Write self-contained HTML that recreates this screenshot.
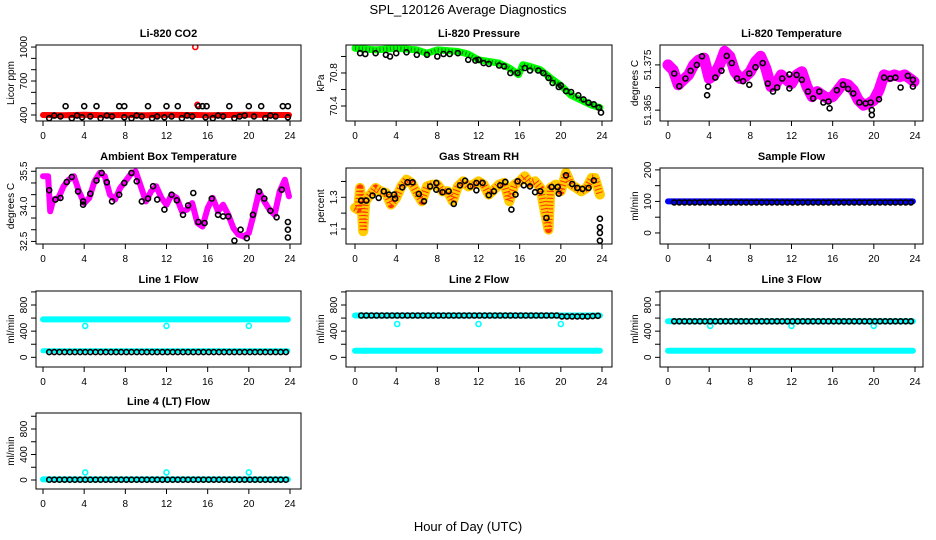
<!DOCTYPE html>
<html><head><meta charset="utf-8">
<style>
html,body{margin:0;padding:0;background:#fff;}
svg{display:block;font-family:"Liberation Sans",Arial,sans-serif;}
</style></head>
<body>
<svg id="chart" width="936" height="540" viewBox="0 0 936 540" xmlns="http://www.w3.org/2000/svg">
<rect width="936" height="540" fill="#fff"/>
<text x="468" y="14" text-anchor="middle" font-size="13">SPL_120126  Average Diagnostics</text>
<text x="468" y="531" text-anchor="middle" font-size="13">Hour of Day (UTC)</text>
</svg>
<script>
// ---------- data ----------
const xTicks = [0,4,8,12,16,20,24];
const halfHours = Array.from({length:47},(_,i)=>0.6+i*0.5);

// CO2
const co2BandHours = [0,2,4,6,8,10,12,14,14.8,15,16,18,20,22,23.9];
const co2BandVals  = [400,398,402,398,400,398,403,400,400,400,398,400,403,400,400];
const co2OutHours = [14.8,15.0];
const co2OutVals  = [1000,490];
const co2AvgHours = [2.2,4,5.2,7.4,7.9,10.2,12,13.1,15.1,15.5,15.9,18.1,20,21.2,23.3,23.8,0.6,1.1,1.7,2.8,3.3,3.8,4.6,5.6,6.2,6.7,7.9,8.6,9.1,9.6,10.6,11.1,11.8,12.5,13.5,14,14.5,15.8,16.5,17,17.5,18.6,19.1,19.6,20.5,21.6,22.1,22.6,23.8];
const co2AvgVals  = [478,478,478,478,478,478,478,478,478,478,478,478,478,478,478,478,372,395,388,372,395,380,388,372,395,388,380,372,395,388,372,388,380,388,372,395,388,380,372,395,388,372,388,395,388,372,395,388,380];

// Pressure
const presHours = [0,2,4,6,7,8,10,11,12,13,14,15,15.9,16.3,17,18,19,20,21,22,23,23.8];
const presVals  = [71.10,71.08,71.10,71.08,71.04,71.08,71.06,71.03,70.96,70.94,70.92,70.86,70.78,70.90,70.88,70.84,70.74,70.65,70.53,70.47,70.41,70.38];
const presAvgHours = [0.5,1,2,3,3.4,4,5,6,7,8,8.6,9.2,10,11,11.7,12,12.5,13,14,14.5,15.1,15.8,16.5,17,17.8,18.3,18.8,19.2,19.8,20,20.5,21,21.7,22.2,22.7,23.2,23.7,23.9];
const presAvgVals  = [71.04,71.03,71.04,71.02,71.00,71.04,71.05,71.02,71.02,71.00,71.03,71.03,71.04,70.96,70.95,70.96,70.92,70.91,70.89,70.88,70.80,70.80,70.86,70.83,70.83,70.80,70.74,70.68,70.63,70.65,70.58,70.57,70.53,70.48,70.44,70.42,70.38,70.32];

// Li-820 temperature
const tempHours = [0,0.5,1,1.5,2,2.5,3,3.5,4,4.5,5,5.5,6,6.5,7,7.5,8,8.5,9,9.5,10,10.5,11,11.5,12,12.5,13,13.5,14,14.5,15,15.5,16,16.5,17,17.5,18,18.5,19,19.5,20,20.5,21,21.5,22,22.5,23,23.5,23.9];
const tempVals  = [51.3750,51.3739,51.3706,51.3717,51.3728,51.3750,51.3761,51.3765,51.3720,51.3728,51.3750,51.3780,51.3769,51.3735,51.3720,51.3724,51.3735,51.3757,51.3769,51.3743,51.3702,51.3709,51.3728,51.3717,51.3709,51.3728,51.3735,51.3702,51.3680,51.3691,51.3683,51.3676,51.3680,51.3694,51.3709,51.3706,51.3694,51.3672,51.3661,51.3665,51.3672,51.3694,51.3728,51.3724,51.3728,51.3724,51.3728,51.3720,51.3713];
const tempAvgHours = [0.6,1.1,1.7,2.2,2.8,3.3,3.9,3.8,4.6,5.2,5.7,6.2,6.7,7.3,7.9,7.9,8.5,9.2,9.7,10.2,10.6,11.1,11.8,11.8,12.5,13.0,13.6,14.1,14.7,15.1,15.6,15.7,16.4,17.0,17.5,18.0,18.6,19.2,19.7,19.8,19.8,20.5,21.0,21.6,22.1,22.6,23.3,23.8,23.8];
const tempAvgVals  = [51.3731,51.3703,51.3720,51.3737,51.3750,51.3769,51.3702,51.3683,51.3722,51.3737,51.3770,51.3754,51.3720,51.3714,51.3731,51.3706,51.3745,51.3754,51.3709,51.3691,51.3700,51.3720,51.3729,51.3698,51.3728,51.3717,51.3691,51.3676,51.3691,51.3667,51.3669,51.3654,51.3694,51.3706,51.3697,51.3687,51.3667,51.3665,51.3667,51.3650,51.3639,51.3674,51.3722,51.3720,51.3722,51.3700,51.3726,51.3717,51.3702];

// Ambient box temperature
const ambHours = [0,0.5,0.7,1,1.5,2,2.5,3,3.5,4,4.5,5,5.5,6,6.5,7,7.5,8,8.5,9,9.5,10,10.5,11,11.5,12,12.5,13,13.5,14,14.5,15,15.5,16,16.5,17,17.5,18,18.5,19,19.5,20,20.5,21,21.5,22,22.5,23,23.5,23.9];
const ambVals  = [35.29,35.29,33.79,34.29,34.36,34.86,35.14,35.29,34.64,34.14,34.36,35.07,35.43,35.29,34.50,34.29,34.79,35.07,35.36,35.50,34.86,34.21,34.64,34.86,34.36,34.07,34.50,34.36,33.79,33.86,34.14,33.29,33.14,33.93,34.36,33.79,34.07,33.64,33.07,32.79,32.71,32.86,33.71,34.64,34.21,33.86,33.64,34.64,35.14,34.43];
const ambAvgHours = [0.6,1.2,1.7,2.3,2.8,3.4,3.9,3.9,4.6,5.2,5.7,6.2,6.7,7.4,7.9,8.6,9.1,9.6,10.2,10.7,11.1,11.8,12.5,13.0,13.6,14.1,14.6,15.1,15.7,16.4,17.0,17.5,18.0,18.6,19.2,19.8,20.4,21.0,21.5,22.1,22.7,23.2,23.8,23.8,23.8];
const ambAvgVals  = [34.69,34.29,34.36,35.04,35.26,34.64,34.21,34.07,34.54,35.10,35.43,35.03,34.21,34.50,35.00,35.43,35.07,34.21,34.33,34.86,34.29,33.86,34.50,34.26,33.64,34.04,34.57,33.33,33.29,34.33,33.64,33.57,33.57,32.53,33.00,32.64,33.64,34.64,34.33,33.81,33.53,34.71,33.33,33.00,32.67];

// Gas stream RH
const rhHours = [0,0.3,0.5,0.7,0.8,1,1.5,2,2.5,3,3.5,4,4.5,5,5.5,6,6.5,7,7.5,8,8.5,9,9.5,10,10.5,11,11.5,12,12.5,13,13.5,14,14.5,15,15.5,16,16.5,17,17.5,18,18.5,18.8,19,19.5,20,20.5,21,21.5,22,22.5,23,23.3,23.8];
const rhVals  = [1.233,1.222,1.359,1.191,1.085,1.275,1.317,1.359,1.338,1.327,1.254,1.296,1.369,1.412,1.391,1.327,1.275,1.369,1.380,1.380,1.338,1.338,1.275,1.369,1.401,1.369,1.380,1.401,1.380,1.317,1.348,1.380,1.391,1.275,1.380,1.401,1.433,1.391,1.401,1.359,1.191,1.096,1.359,1.380,1.338,1.454,1.380,1.359,1.338,1.359,1.422,1.422,1.317];
const rhAvgHours = [0.6,1.1,1.7,2.3,2.8,3.3,3.8,3.9,4.6,5.1,5.6,6.2,6.7,7.3,7.9,7.9,8.5,9.1,9.6,10.2,10.7,11.2,11.8,11.8,12.4,13.0,13.5,14.1,14.6,15.2,15.6,15.8,16.4,17.0,17.5,18.0,18.6,19.1,19.7,19.8,20.5,21.1,21.6,22.1,22.7,23.2,23.8,23.8,23.8,23.8];
const rhAvgVals  = [1.279,1.279,1.311,1.296,1.338,1.317,1.317,1.292,1.363,1.395,1.395,1.321,1.275,1.369,1.391,1.348,1.332,1.338,1.258,1.376,1.405,1.369,1.391,1.344,1.391,1.313,1.338,1.376,1.397,1.222,1.317,1.401,1.376,1.369,1.332,1.338,1.169,1.365,1.365,1.323,1.439,1.384,1.359,1.353,1.359,1.407,1.165,1.111,1.075,1.026];

// Flows (band endpoints + averages)
const flowBandHours = [0,23.8];
const sampleBand = [100,100];
const sampleAvg = [97,97,97,97,97,97,97,97,97,97,97,97,97,97,97,97,97,97,97,97,97,97,97,97,97,97,97,97,97,97,97,97,97,97,97,97,97,97,97,97,97,97,97,97,97,97,97];
const line1BandHigh = [580,580];
const line1BandLow = [100,100];
const line1Avg = [80,80,80,80,80,80,80,80,80,80,80,80,80,80,80,80,80,80,80,80,80,80,80,80,80,80,80,80,80,80,80,80,80,80,80,80,80,80,80,80,80,80,80,80,80,80,80];
const line2BandHigh = [640,640];
const line2BandLow = [100,100];
const line2Avg = [640,640,640,640,640,640,640,640,640,640,640,640,640,640,640,640,640,640,640,640,640,640,640,640,640,640,640,640,640,640,640,640,640,640,640,640,640,640,640,625,625,625,625,625,625,630,635];
const line3BandHigh = [550,550];
const line3BandLow = [100,100];
const line3Avg = [550,550,550,550,550,550,550,550,550,550,550,550,550,550,550,550,550,550,550,550,550,550,550,550,550,550,550,550,550,550,550,550,550,550,550,550,550,550,550,550,550,550,550,550,550,550,550];
const line4Band = [10,10];
const line4Avg = [5,5,5,5,5,5,5,5,5,5,5,5,5,5,5,5,5,5,5,5,5,5,5,5,5,5,5,5,5,5,5,5,5,5,5,5,5,5,5,5,5,5,5,5,5,5,5];
const outlierHours = [4.1,12,20];
const line1Out = [480,480,480];
const line2Out = [510,510,510];
const line3Out = [480,480,480];
const line4Out = [120,120,120];

// ---------- drawing ----------
const svg = document.getElementById('chart');
const NS = 'http://www.w3.org/2000/svg';
function mk(tag, attrs, parent){
  const e = document.createElementNS(NS, tag);
  for (const k in attrs) e.setAttribute(k, attrs[k]);
  (parent||svg).appendChild(e);
  return e;
}
const cols = [{l:36,r:301,x0:43,x24:290},{l:346,r:612,x0:355,x24:602},{l:660,r:923,x0:668,x24:915}];
const rows = [{t:45,b:121},{t:168,b:244},{t:291,b:367},{t:413,b:489}];

function panel(cfg){
  const c = cols[cfg.col], rw = rows[cfg.row];
  const g = mk('g', {});
  
  
  const xs = h => c.x0 + (c.x24 - c.x0) * h / 24;
  const ys = v => rw.b - (v - cfg.ymin) / (cfg.ymax - cfg.ymin) * (rw.b - rw.t);
  const clip = 'clip-' + cfg.name;
  const cp = mk('clipPath', {id: clip}, g);
  mk('rect', {x:c.l, y:rw.t, width:c.r-c.l, height:rw.b-rw.t}, cp);
  const plot = mk('g', {'clip-path':'url(#'+clip+')'}, g);
  
  
  (cfg.bands||[]).forEach(bd => {
    const pts = bd.h.map((h,i)=>xs(h).toFixed(1)+','+ys(bd.v[i]).toFixed(1)).join(' ');
    const pl = mk('polyline', {points:pts, fill:'none', stroke:bd.color, 'stroke-width':bd.w, 'stroke-linejoin':'round', 'stroke-linecap':'round'}, plot);
    
    
    if (bd.tex){
      const pl2 = mk('polyline', {points:pts, fill:'none', stroke:bd.tex, 'stroke-width':bd.w-3, 'stroke-dasharray':'1 2.5', 'stroke-linejoin':'round'}, plot);
      
      
    }
  });
  (cfg.points||[]).forEach(ps => {
    ps.h.forEach((h,i)=>{
      const ci = mk('circle', {cx:xs(h).toFixed(1), cy:ys(ps.v[i]).toFixed(1), r:ps.r||2.5, fill:'none', stroke:ps.color, 'stroke-width':1.6}, plot);
      
      
    });
  });
  const box = mk('rect', {x:c.l, y:rw.t, width:c.r-c.l, height:rw.b-rw.t, fill:'none', stroke:'#000', 'stroke-width':1}, g);
  
  
  const xa = mk('g', {}, g);
  
  
  xTicks.forEach(t=>{
    mk('line', {x1:xs(t), x2:xs(t), y1:rw.b, y2:rw.b+5, stroke:'#000'}, xa);
    const tx = mk('text', {x:xs(t), y:rw.b+18, 'text-anchor':'middle', 'font-size':10}, xa);
    tx.textContent = t;
    
    
  });
  const ya = mk('g', {}, g);
  
  
  cfg.yticks.forEach(t=>{
    mk('line', {x1:c.l-5, x2:c.l, y1:ys(t), y2:ys(t), stroke:'#000'}, ya);
  });
  cfg.ylabels.forEach(t=>{
    const yy = ys(t), xx = c.l - 9;
    const tx = mk('text', {x:xx, y:yy, 'text-anchor':'middle', 'font-size':10, transform:'rotate(-90 '+xx+' '+yy+')'}, ya);
    tx.textContent = cfg.fmt ? cfg.fmt(t) : t;
    
    
  });
  const ym = (rw.t+rw.b)/2, yx = c.l - 22;
  const yt = mk('text', {x:yx, y:ym, 'text-anchor':'middle', 'font-size':10, transform:'rotate(-90 '+yx+' '+ym+')'}, g);
  yt.textContent = cfg.ylab;
  
  
  const tt = mk('text', {x:(c.l+c.r)/2, y:rw.t-8, 'text-anchor':'middle', 'font-size':11, 'font-weight':'bold'}, g);
  tt.textContent = cfg.title;
  
  
}

const flowTicks = [0,200,400,600,800,1000];
const flowLabels = [0,400,800];

panel({name:'co2-panel', col:0,row:0, title:'Li-820 CO2', ylab:'Licor ppm', ymin:347, ymax:1018,
  yticks:[400,500,600,700,800,900,1000], ylabels:[400,700,1000],
  bands:[{name:'co2-band', h:co2BandHours, v:co2BandVals, color:'#ff0000', w:6}],
  points:[{name:'co2-outlier', h:co2OutHours, v:co2OutVals, color:'#ff0000'},
          {name:'co2-average', h:co2AvgHours, v:co2AvgVals, color:'#000'}]});
panel({name:'pressure-panel', col:1,row:0, title:'Li-820 Pressure', ylab:'kPa', ymin:70.218, ymax:71.139,
  yticks:[70.4,70.6,70.8,71.0], ylabels:[70.4,70.8], fmt:t=>t.toFixed(1),
  bands:[{name:'pressure-band', h:presHours, v:presVals, color:'#00ff00', w:7, tex:'#007700'}],
  points:[{name:'pressure-average', h:presAvgHours, v:presAvgVals, color:'#000'}]});
panel({name:'li820-temp-panel', col:2,row:0, title:'Li-820 Temperature', ylab:'degrees C', ymin:51.3626, ymax:51.3794,
  yticks:[51.365,51.37,51.375], ylabels:[51.365,51.375], fmt:t=>t.toFixed(3),
  bands:[{name:'li820-temp-band', h:tempHours, v:tempVals, color:'#ff00ff', w:11}],
  points:[{name:'li820-temp-average', h:tempAvgHours, v:tempAvgVals, color:'#000'}]});
panel({name:'ambient-temp-panel', col:0,row:1, title:'Ambient Box Temperature', ylab:'degrees C', ymin:32.39, ymax:35.64,
  yticks:[32.5,33,33.5,34,34.5,35,35.5], ylabels:[32.5,34.0,35.5], fmt:t=>t.toFixed(1),
  bands:[{name:'ambient-temp-band', h:ambHours, v:ambVals, color:'#ff00ff', w:6}],
  points:[{name:'ambient-temp-average', h:ambAvgHours, v:ambAvgVals, color:'#000'}]});
panel({name:'rh-panel', col:1,row:1, title:'Gas Stream RH', ylab:'percent', ymin:1.005, ymax:1.485,
  yticks:[1.1,1.2,1.3,1.4], ylabels:[1.1,1.3], fmt:t=>t.toFixed(1),
  bands:[{name:'rh-band', h:rhHours, v:rhVals, color:'#ffcc00', w:10, tex:'#ff3300'}],
  points:[{name:'rh-average', h:rhAvgHours, v:rhAvgVals, color:'#000'}]});
panel({name:'sample-flow-panel', col:2,row:1, title:'Sample Flow', ylab:'ml/min', ymin:-35, ymax:206,
  yticks:[0,50,100,150,200], ylabels:[0,100,200],
  bands:[{name:'sample-flow-band', h:flowBandHours, v:sampleBand, color:'#0000ff', w:6}],
  points:[{name:'sample-flow-average', h:halfHours, v:sampleAvg, color:'#000'}]});
panel({name:'line1-flow-panel', col:0,row:2, title:'Line 1 Flow', ylab:'ml/min', ymin:-148, ymax:1014,
  yticks:flowTicks, ylabels:flowLabels,
  bands:[{name:'line1-band-high', h:flowBandHours, v:line1BandHigh, color:'#00ffff', w:6},
         {name:'line1-band-low', h:flowBandHours, v:line1BandLow, color:'#00ffff', w:5}],
  points:[{name:'line1-outlier', h:outlierHours, v:line1Out, color:'#00ffff'},
          {name:'line1-average', h:halfHours, v:line1Avg, color:'#000'}]});
panel({name:'line2-flow-panel', col:1,row:2, title:'Line 2 Flow', ylab:'ml/min', ymin:-148, ymax:1014,
  yticks:flowTicks, ylabels:flowLabels,
  bands:[{name:'line2-band-high', h:flowBandHours, v:line2BandHigh, color:'#00ffff', w:6},
         {name:'line2-band-low', h:flowBandHours, v:line2BandLow, color:'#00ffff', w:6}],
  points:[{name:'line2-outlier', h:outlierHours, v:line2Out, color:'#00ffff'},
          {name:'line2-average', h:halfHours, v:line2Avg, color:'#000'}]});
panel({name:'line3-flow-panel', col:2,row:2, title:'Line 3 Flow', ylab:'ml/min', ymin:-148, ymax:1014,
  yticks:flowTicks, ylabels:flowLabels,
  bands:[{name:'line3-band-high', h:flowBandHours, v:line3BandHigh, color:'#00ffff', w:6},
         {name:'line3-band-low', h:flowBandHours, v:line3BandLow, color:'#00ffff', w:6}],
  points:[{name:'line3-outlier', h:outlierHours, v:line3Out, color:'#00ffff'},
          {name:'line3-average', h:halfHours, v:line3Avg, color:'#000'}]});
panel({name:'line4-flow-panel', col:0,row:3, title:'Line 4 (LT) Flow', ylab:'ml/min', ymin:-141, ymax:1051,
  yticks:flowTicks, ylabels:flowLabels,
  bands:[{name:'line4-band', h:flowBandHours, v:line4Band, color:'#00ffff', w:6}],
  points:[{name:'line4-outlier', h:outlierHours, v:line4Out, color:'#00ffff'},
          {name:'line4-average', h:halfHours, v:line4Avg, color:'#000'}]});
</script>
</body></html>
